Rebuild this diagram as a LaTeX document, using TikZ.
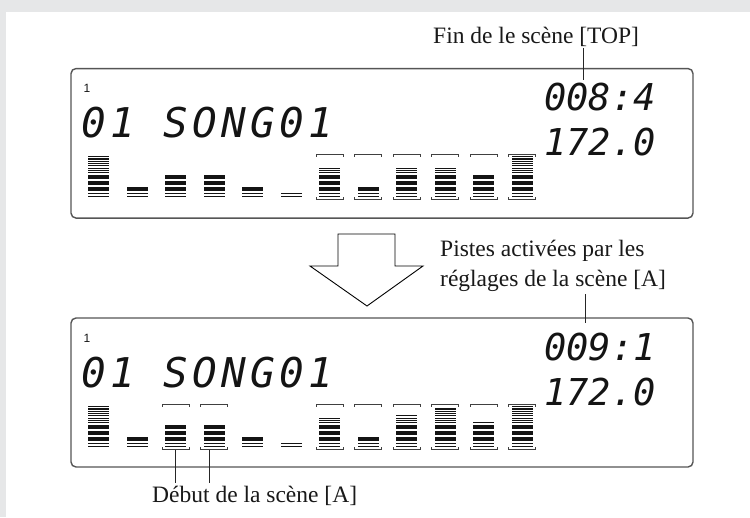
\documentclass[tikz,border=0pt]{standalone}
\usepackage{fontspec}
\setmainfont{Liberation Serif}
\newfontfamily\lcdfont{DejaVu Sans Mono}
\newfontfamily\lcdsmall{Liberation Sans}

% one level meter: x, bottom y, lit levels
\newcommand{\lcdmeter}[3]{%
  \foreach \off/\h [count=\k] in {0/1.5,3/1.5,6.3/4,12.3/4,18.3/4,24/1.1,26.3/1.1,
      28.6/1.1,30.9/1.1,33.2/1.1,35.5/1.1,37.8/1.1,40.1/1.1}{%
    \ifnum\k>#3\relax\else
      \fill[lcdink] ({#1},{#2-\off}) rectangle ({#1+21},{#2-\off-\h});
    \fi
  }%
}
% bracket marks round a meter: x, bottom y
\newcommand{\lcdbracket}[2]{%
  \draw[brk] ({#1-3},{#2-40.8}) -- ({#1-3},{#2-43.3}) -- ({#1+24},{#2-43.3}) -- ({#1+24},{#2-40.8});
  \draw[brk] ({#1-3},{#2-0.3}) -- ({#1-3},{#2+2.2}) -- ({#1+24},{#2+2.2}) -- ({#1+24},{#2-0.3});
}

\begin{document}
\begin{tikzpicture}[
    x=1pt, y=-1pt,
    every node/.style={
        text=black!90
    },
    lcdframe/.style={
        draw=framegrey,
        line width=1.4pt,
        rounded corners=5pt,
        inner sep=0pt
    },
    label/.style={
        font=\fontsize{23.5}{30.5}\selectfont,
        inner xsep=0pt,
        inner ysep=2pt,
        align=left
    },
    segline/.style={
        font=\lcdfont\itshape\fontsize{41}{41}\selectfont\addfontfeature{LetterSpace=10.5},
        inner sep=0pt,
        text=lcdink
    },
    segnum/.style={
        font=\lcdfont\itshape\fontsize{37}{37}\selectfont,
        inner sep=0pt,
        text=lcdink
    },
    tracknum/.style={
        font=\lcdsmall\fontsize{12}{12}\selectfont,
        inner sep=0pt,
        text=lcdink
    },
    brk/.style={draw=black!75, line width=0.8pt},
    leader/.style={draw=black!85, line width=0.8pt}
]

%--- Color Definitions ---%
\definecolor{bggrey}{RGB}{230,231,232}
\definecolor{lcdink}{RGB}{20,20,20}
\definecolor{framegrey}{RGB}{85,85,85}

\useasboundingbox (0,0) rectangle (750,517);
\fill[bggrey] (0,0) rectangle (750,517);
\fill[white] (6,12) rectangle (750,517);

%-----------------------------------------------
% TOP DISPLAY
%-----------------------------------------------
\node[lcdframe, minimum width=622pt, minimum height=149.5pt]
    (lcdtop) at (382,143.3) {};

\node[tracknum] (trktop) at (87,88) {1};
\node[segline, anchor=base west] (songtop) at (81,137) {01 SONG01};
\node[segnum, anchor=base east] (bartop) at (656,110) {008:4};
\node[segnum, anchor=base east] (tempotop) at (656,155) {172.0};

\foreach \lv [count=\i from 0] in {13,3,5,5,3,2,8,3,8,8,5,13}
    {\lcdmeter{88+38.5*\i}{197.3}{\lv}}
\foreach \i in {6,...,11}
    {\lcdbracket{88+38.5*\i}{197.3}}

%-----------------------------------------------
% ARROW
%-----------------------------------------------
\draw[fill=white, line width=0.9pt, line join=miter]
    (338,234) -- (395,234) -- (395,266) -- (423,266) -- (367,306)
    -- (310,266) -- (338,266) -- cycle;

%-----------------------------------------------
% BOTTOM DISPLAY
%-----------------------------------------------
\node[lcdframe, minimum width=622pt, minimum height=149pt]
    (lcdbot) at (382,392.5) {};

\node[tracknum] (trkbot) at (87,338) {1};
\node[segline, anchor=base west] (songbot) at (81,387) {01 SONG01};
\node[segnum, anchor=base east] (barbot) at (656,360) {009:1};
\node[segnum, anchor=base east] (tempobot) at (656,405) {172.0};

\foreach \lv [count=\i from 0] in {13,3,5,5,3,2,8,3,9,12,6,13}
    {\lcdmeter{88+38.5*\i}{447.3}{\lv}}
\foreach \i in {2,3,6,7,8,9,10,11}
    {\lcdbracket{88+38.5*\i}{447.3}}

%-----------------------------------------------
% LABELS
%-----------------------------------------------
\node[label, anchor=base west] (fin) at (433,43) {Fin de le sc\`ene [TOP]};
\node[label, anchor=south west] (pistes) at (440,294)
    {Pistes activ\'ees par les\\r\'eglages de la sc\`ene [A]};
\node[label, anchor=base west] (debut) at (152,502) {D\'ebut de la sc\`ene [A]};

\coordinate (endtop) at (583,80);
\coordinate (endbot) at (585,323);
\coordinate (scnA1) at (175.5,449.5);
\coordinate (scnA2) at (209,449.5);

%-----------------------------------------------
% LEADERS
%-----------------------------------------------
\draw[leader] (fin.south -| endtop) -- (endtop);
\draw[leader] (pistes.south -| endbot) -- (endbot);
\draw[leader] (scnA1) -- (scnA1 |- debut.north);
\draw[leader] (scnA2) -- (scnA2 |- debut.north);

\end{tikzpicture}
\end{document}
